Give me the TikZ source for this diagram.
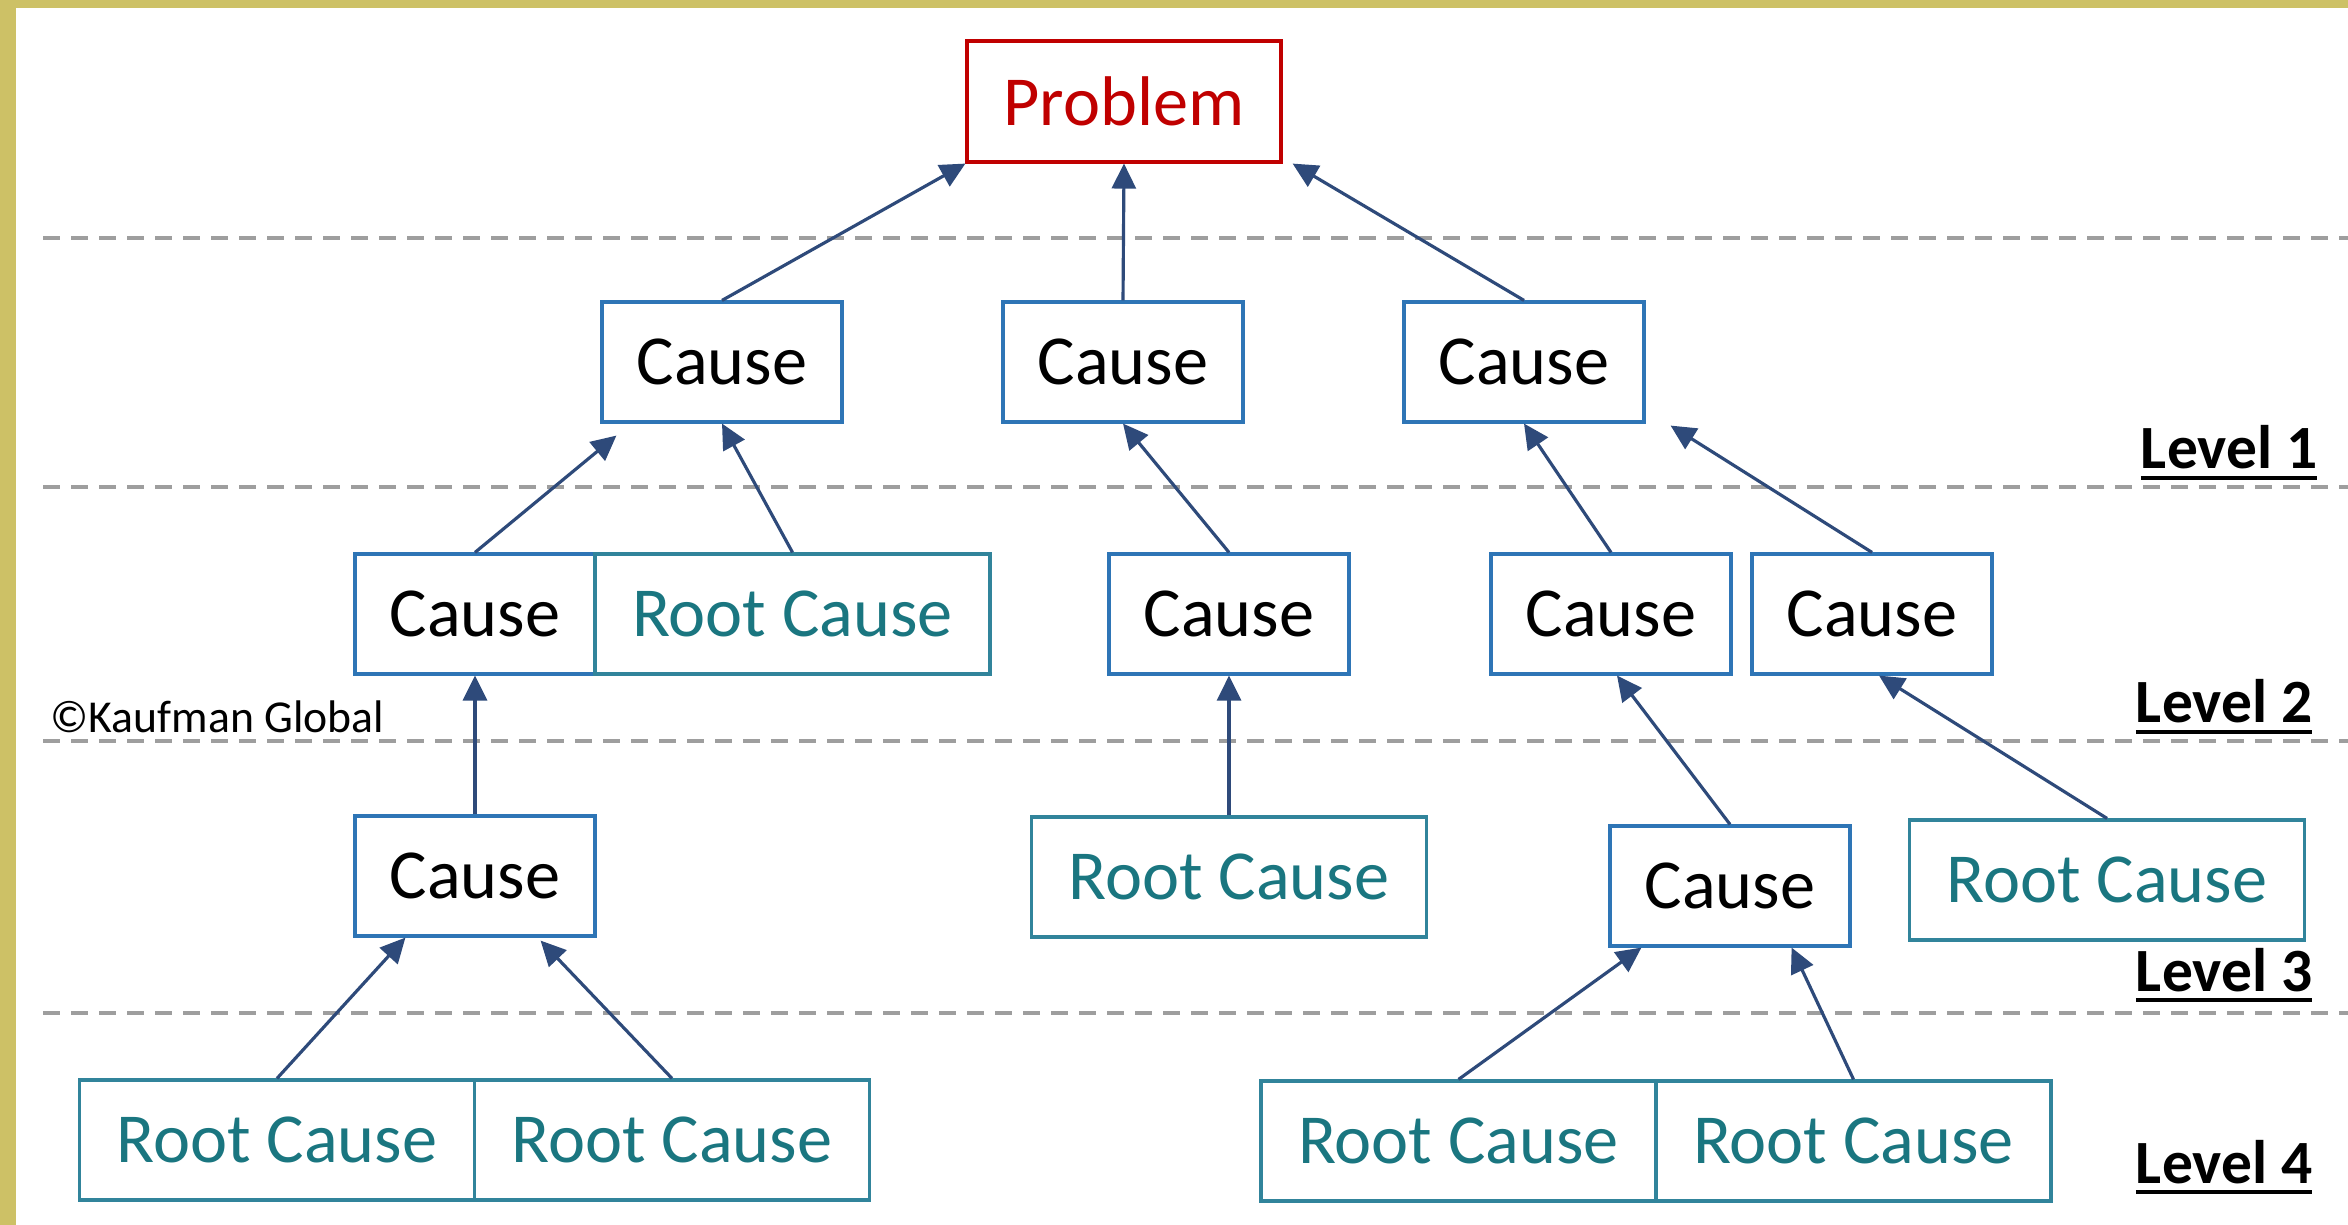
\documentclass[tikz,border=0pt]{standalone}
\usepackage{fontspec}
\setmainfont{Carlito}
\usetikzlibrary{arrows.meta}

\definecolor{causeblue}{RGB}{46,117,182}
\definecolor{rootteal}{RGB}{49,132,155}
\definecolor{roottext}{RGB}{26,118,128}
\definecolor{probred}{RGB}{192,0,0}
\definecolor{linknavy}{RGB}{46,74,122}
\definecolor{framegold}{RGB}{205,193,102}
\definecolor{levelgray}{RGB}{158,158,158}

\newcommand{\lvlul}[1]{\setbox0\hbox{#1}\rlap{\rule[-3.2pt]{\wd0}{1.2pt}}\box0}

\tikzset{
  box/.style={draw, line width=0.9pt, inner sep=0pt, minimum height=1.2cm,
    font=\fontsize{20}{24}\selectfont},
  causebox/.style={box, draw=causeblue, minimum width=2.4cm},
  rootbox/.style={box, draw=rootteal, text=roottext, minimum width=3.95cm},
  probbox/.style={box, draw=probred, text=probred, minimum width=3.14cm, minimum height=1.21cm},
  link/.style={draw=linknavy, line width=0.9pt, -{Triangle[length=0.25cm,width=0.24cm]}},
  levelline/.style={levelgray, line width=1pt, dash pattern=on 0.17cm off 0.11cm},
  levellabel/.style={anchor=base east, inner sep=0pt, font=\fontsize{17.5}{21}\selectfont\bfseries}
}

\begin{document}
\begin{tikzpicture}
    \useasboundingbox (0,0) rectangle (23.48,-12.25);
    \fill[white] (0,0) rectangle (23.48,-12.25);
    % gold frame
    \fill[framegold] (0,0) rectangle (23.48,-0.08);
    \fill[framegold] (0,0) rectangle (0.16,-12.25);

    % level separators
    \foreach \y in {-2.38,-4.87,-7.41,-10.13}
        \draw[levelline] (0.43,\y) -- (23.48,\y);

    \node[levellabel] (lvl1) at (23.18,-4.69) {\lvlul{Level 1}};
    \node[levellabel] (lvl2) at (23.13,-7.23) {\lvlul{Level 2}};
    \node[levellabel] (lvl3) at (23.13,-9.91) {\lvlul{Level 3}};
    \node[levellabel] (lvl4) at (23.13,-11.83) {\lvlul{Level 4}};
    \node[anchor=base west, inner sep=0pt, font=\fontsize{13}{15}\selectfont] (copy) at (0.50,-7.33) {©Kaufman Global};

    \node[probbox] (prob) at (11.24,-1.015) {Problem};

    \node[causebox] (c1a) at (7.22,-3.62) {Cause};
    \node[causebox] (c1b) at (11.23,-3.62) {Cause};
    \node[causebox] (c1c) at (15.24,-3.62) {Cause};

    \node[causebox] (c2a) at (4.75,-6.14) {Cause};
    \node[rootbox] (r2a) at (7.925,-6.14) {Root Cause};
    \node[causebox] (c2b) at (12.29,-6.14) {Cause};
    \node[causebox] (c2c) at (16.11,-6.14) {Cause};
    \node[causebox] (c2d) at (18.72,-6.14) {Cause};

    \node[causebox] (c3a) at (4.75,-8.76) {Cause};
    \node[rootbox] (r3a) at (12.29,-8.77) {Root Cause};
    \node[causebox] (c3b) at (17.30,-8.86) {Cause};
    \node[rootbox] (r3b) at (21.07,-8.80) {Root Cause};

    \node[rootbox] (r4a) at (2.77,-11.40) {Root Cause};
    \node[rootbox] (r4b) at (6.72,-11.40) {Root Cause};
    \node[rootbox] (r4c) at (14.585,-11.41) {Root Cause};
    \node[rootbox] (r4d) at (18.535,-11.41) {Root Cause};

    \draw [link] (c1a.north) -- (prob.south west);
    \draw [link] (c1b.north) -- (prob.south);
    \draw [link] (c1c.north) -- ([xshift=0.1cm]prob.south east);

    \draw [link] (c2a.north) -- ([shift={(0.16,-0.12)}]c1a.south west);
    \draw [link] (r2a.north) -- (c1a.south);
    \draw [link] (c2b.north) -- (c1b.south);
    \draw [link] (c2c.north) -- (c1c.south);
    \draw [link] (c2d.north) -- ([shift={(0.25,-0.02)}]c1c.south east);

    \draw [link] (c3a.north) -- (c2a.south);
    \draw [link] (r3a.north) -- (c2b.south);
    \draw [link] (c3b.north) -- ([xshift=0.06cm]c2c.south);
    \draw [link] (r3b.north) -- ([xshift=0.07cm]c2d.south);

    \draw [link] (r4a.north) -- ([xshift=0.52cm]c3a.south west);
    \draw [link] (r4b.north) -- ([shift={(-0.56,-0.03)}]c3a.south east);
    \draw [link] (r4c.north) -- ([xshift=0.33cm]c3b.south west);
    \draw [link] (r4d.north) -- ([xshift=-0.6cm]c3b.south east);
\end{tikzpicture}
\end{document}
